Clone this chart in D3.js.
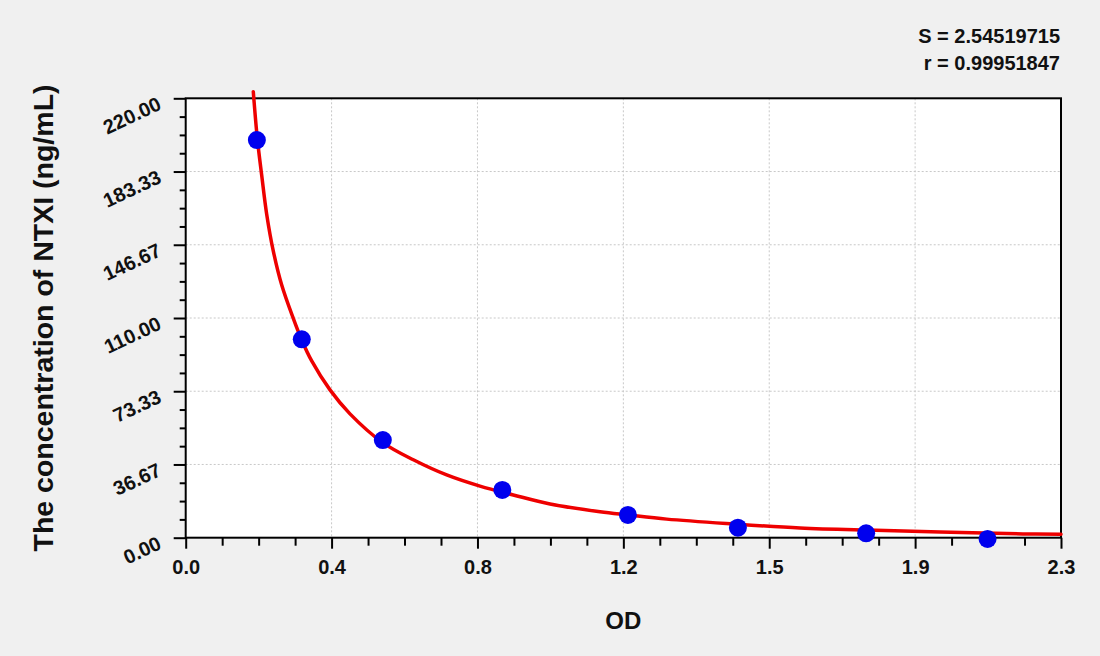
<!DOCTYPE html>
<html>
<head>
<meta charset="utf-8">
<script src="https://cdn.jsdelivr.net/npm/d3@7"></script>
<style>
  html, body { margin: 0; padding: 0; background: #f0f0f0; }
  svg { display: block; }
  text { font-family: "Liberation Sans", Arial, sans-serif; font-weight: bold; fill: #111; }
</style>
</head>
<body>
<svg id="chart" width="1100" height="656"></svg>
<script>
// ---- data ----
const odValues   = [0.187, 0.305, 0.518, 0.832, 1.162, 1.451, 1.788, 2.107];
const concValues = [199.1, 99.3, 48.9, 23.9, 11.4, 5.0, 2.2, -0.6];

// fitted curve (OD, concentration)
const curveOD   = [0.1776, 0.1881, 0.1997, 0.2128, 0.2302, 0.2523, 0.2827, 0.3048, 0.3311, 0.3792, 0.4317, 0.5177, 0.5981, 0.6858, 0.7733, 0.8608, 0.9573, 1.0887, 1.1622, 1.2639, 1.4389, 1.6142, 1.7895, 1.9821, 2.2002, 2.3];
const curveConc = [223.3, 200.0, 181.5, 162.0, 143.5, 126.5, 109.8, 99.0, 88.5, 74.0, 62.0, 47.6, 39.0, 31.4, 25.8, 21.4, 16.9, 13.0, 11.4, 9.3, 6.9, 4.9, 3.8, 2.9, 1.9, 1.7];

const xTickValues = [0, 0.38333, 0.76667, 1.15, 1.53333, 1.91667, 2.3];
const xTickLabels = ["0.0", "0.4", "0.8", "1.2", "1.5", "1.9", "2.3"];
const yTickValues = [0, 36.667, 73.333, 110, 146.667, 183.333, 220];
const yTickLabels = ["0.00", "36.67", "73.33", "110.00", "146.67", "183.33", "220.00"];

const xTitle = "OD";
const yTitle = "The concentration of NTXI (ng/mL)";
const statLines = ["S = 2.54519715", "r = 0.99951847"];

// ---- layout ----
const W = 1100, H = 656;
const margin = { left: 185.7, right: 39, top: 98.3, bottom: 118.3 };
const pw = W - margin.left - margin.right;
const ph = H - margin.top - margin.bottom;

const svg = d3.select("#chart");
svg.append("rect").attr("width", W).attr("height", H).attr("fill", "#f0f0f0");

const g = svg.append("g").attr("transform", `translate(${margin.left},${margin.top})`);

const x = d3.scaleLinear().domain([0, 2.3]).range([0, pw]);
const y = d3.scaleLinear().domain([0, 220]).range([ph, 0]);

g.append("rect").attr("width", pw).attr("height", ph).attr("fill", "#ffffff");

// minor ticks (4 divisions per major step)
function minors(vals) {
  const out = [];
  for (let i = 0; i < vals.length - 1; i++) {
    const st = (vals[i + 1] - vals[i]) / 4;
    for (let k = 1; k < 4; k++) out.push(vals[i] + k * st);
  }
  return out;
}
const xMinor = minors(xTickValues);
const yMinor = minors(yTickValues);

// grid
const grid = g.append("g").attr("stroke", "#c8c8c8").attr("stroke-width", 1).attr("stroke-dasharray", "2,2");
grid.selectAll("line.v").data(xTickValues.slice(1, -1)).join("line")
  .attr("x1", d => x(d)).attr("x2", d => x(d)).attr("y1", 0).attr("y2", ph);
grid.selectAll("line.h").data(yTickValues.slice(1, -1)).join("line")
  .attr("y1", d => y(d)).attr("y2", d => y(d)).attr("x1", 0).attr("x2", pw);

// axes
const xAxis = g.append("g").attr("transform", `translate(0,${ph})`)
  .call(d3.axisBottom(x).tickValues(xTickValues).tickSize(11).tickPadding(11)
    .tickFormat((d, i) => xTickLabels[i]));
const xAxisMinor = g.append("g").attr("transform", `translate(0,${ph})`)
  .call(d3.axisBottom(x).tickValues(xMinor).tickSize(8).tickFormat(""));
const yAxis = g.append("g")
  .call(d3.axisLeft(y).tickValues(yTickValues).tickSize(12).tickPadding(8)
    .tickFormat((d, i) => yTickLabels[i]));
const yAxisMinor = g.append("g")
  .call(d3.axisLeft(y).tickValues(yMinor).tickSize(6).tickFormat(""));

[xAxis, xAxisMinor, yAxis, yAxisMinor].forEach(a => {
  a.selectAll("path.domain").remove();
  a.selectAll(".tick line").attr("stroke", "#000").attr("stroke-width", 2);
});
xAxis.selectAll(".tick text")
  .style("font-size", "20px").style("font-family", "'Liberation Sans', Arial, sans-serif")
  .style("font-weight", "bold").attr("fill", "#111");
yAxis.selectAll(".tick text")
  .style("font-size", "20px").style("font-family", "'Liberation Sans', Arial, sans-serif")
  .style("font-weight", "bold").attr("fill", "#111")
  .attr("x", 0).attr("dy", null)
  .attr("text-anchor", "end")
  .attr("transform", "translate(-23,10) rotate(-25)");

// frame
g.append("rect").attr("width", pw).attr("height", ph)
  .attr("fill", "none").attr("stroke", "#000").attr("stroke-width", 2);

// fitted curve
const curveData = curveOD.map((d, i) => [d, curveConc[i]]);
g.append("path").datum(curveData)
  .attr("fill", "none").attr("stroke", "#ee0000").attr("stroke-width", 3.5)
  .attr("stroke-linecap", "round")
  .attr("d", d3.line().x(d => x(d[0])).y(d => y(d[1])).curve(d3.curveCatmullRom.alpha(0.5)));

// points
g.selectAll("circle.pt").data(odValues.map((d, i) => [d, concValues[i]])).join("circle")
  .attr("cx", d => x(d[0])).attr("cy", d => y(d[1])).attr("r", 9)
  .attr("fill", "#0000ee");

// titles
svg.append("text").attr("x", margin.left + pw / 2).attr("y", 629)
  .attr("text-anchor", "middle").style("font-size", "24px").text(xTitle);
svg.append("text").attr("transform", `translate(53,${margin.top + ph / 2}) rotate(-90)`)
  .attr("text-anchor", "middle").style("font-size", "28.5px").text(yTitle);

// stats
svg.selectAll("text.stat").data(statLines).join("text")
  .attr("x", 1060).attr("y", (d, i) => 43 + i * 27)
  .attr("text-anchor", "end").style("font-size", "20px").text(d => d);
</script>
</body>
</html>
